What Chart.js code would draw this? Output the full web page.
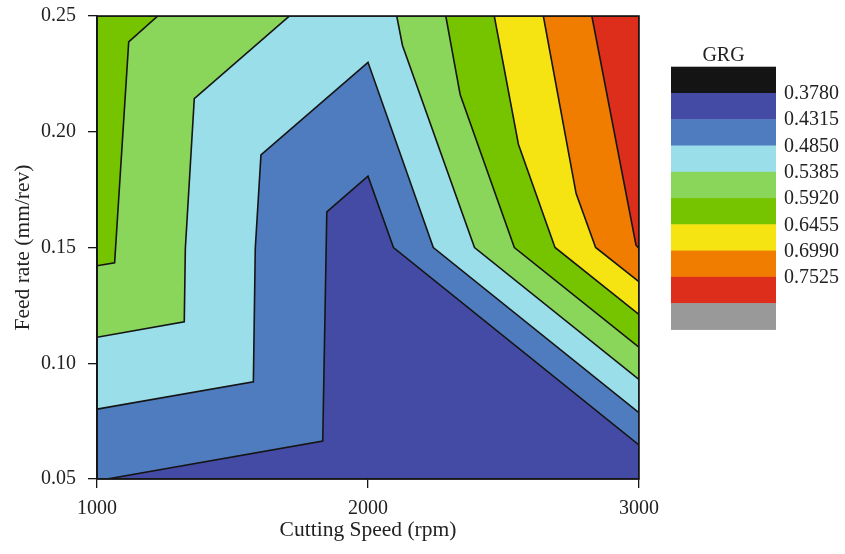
<!DOCTYPE html>
<html><head><meta charset="utf-8">
<script src="https://cdn.jsdelivr.net/npm/chart.js@4/dist/chart.umd.min.js"></script>
<style>html,body{margin:0;padding:0;background:#fff}canvas{display:block}</style>
</head><body>
<canvas id="c" width="845" height="554"></canvas>
<script>
// ---- axis ticks ----
const speedTicks = [1000, 2000, 3000];
const feedTicks = [0.05, 0.10, 0.15, 0.20, 0.25];

// ---- legend (GRG levels) ----
const legendLabels = ['0.3780','0.4315','0.4850','0.5385','0.5920','0.6455','0.6990','0.7525'];
const legendColors = ['#141414','#444ba5','#4f7cbe','#99dee9','#8ad65b','#76c400','#f5e412','#f07d00','#dd2e1c','#999999'];

// ---- filled contour regions (GRG above a level): speed (rpm) / feed (mm/rev) vertices ----
const navyX = [1000, 3000, 3000, 1000];
const navyY = [0.05, 0.05, 0.25, 0.25];
const blueX = [1000, 1037, 1833, 1848, 2000, 2094, 3000, 3000, 1000];
const blueY = [0.05, 0.05, 0.0664, 0.1654, 0.1808, 0.150, 0.0647, 0.25, 0.25];
const lightBlueX = [1000, 1577, 1584, 1605, 2000, 2241, 3000, 3000, 1000];
const lightBlueY = [0.0802, 0.092, 0.1496, 0.190, 0.230, 0.150, 0.0786, 0.25, 0.25];
const lightGreenLeftX = [1000, 1322, 1326, 1359, 1710, 1000];
const lightGreenLeftY = [0.1112, 0.1179, 0.1496, 0.2143, 0.25, 0.25];
const lightGreenRightX = [2106, 2127, 2393, 3000, 3000];
const lightGreenRightY = [0.25, 0.2374, 0.150, 0.0930, 0.25];
const greenLeftX = [1000, 1065, 1117, 1224, 1000];
const greenLeftY = [0.1421, 0.1434, 0.2388, 0.25, 0.25];
const greenRightX = [2287, 2340, 2540, 3000, 3000];
const greenRightY = [0.25, 0.2161, 0.150, 0.1069, 0.25];
const yellowX = [2466, 2555, 2690, 3000, 3000];
const yellowY = [0.25, 0.1946, 0.150, 0.1211, 0.25];
const orangeX = [2647, 2768, 2840, 3000, 3000];
const orangeY = [0.25, 0.1733, 0.150, 0.1352, 0.25];
const redX = [2826, 2989, 3000, 3000];
const redY = [0.25, 0.151, 0.1496, 0.25];

const regions = [
  [navyX, navyY, 1],
  [blueX, blueY, 2],
  [lightBlueX, lightBlueY, 3],
  [lightGreenLeftX, lightGreenLeftY, 4],
  [lightGreenRightX, lightGreenRightY, 4],
  [greenLeftX, greenLeftY, 5],
  [greenRightX, greenRightY, 5],
  [yellowX, yellowY, 6],
  [orangeX, orangeY, 7],
  [redX, redY, 8]
];

const FONT = 'Liberation Serif';
const TXT = '#222';

const datasets = regions.map(([xs, ys, ci], i) => {
  const pts = xs.map((x, k) => ({x: x, y: ys[k]}));
  pts.push({x: xs[0], y: ys[0]});
  return {
    data: pts,
    showLine: true,
    fill: 'shape',
    backgroundColor: legendColors[ci],
    borderColor: '#151515',
    borderWidth: 1.6,
    pointRadius: 0,
    pointHoverRadius: 0,
    tension: 0,
    order: 100 - i
  };
});

const frame = {
  id: 'frame',
  afterDatasetsDraw(chart) {
    const {ctx, chartArea: a} = chart;
    ctx.save();
    ctx.strokeStyle = '#151515';
    ctx.lineWidth = 1.6;
    ctx.strokeRect(a.left, a.top, a.right - a.left, a.bottom - a.top);
    ctx.restore();
  }
};

const grgLegend = {
  id: 'grgLegend',
  afterDraw(chart) {
    const ctx = chart.ctx;
    const x0 = 671, w = 105, y0 = 66.7, h = 26.27;
    ctx.save();
    ctx.font = '20px "' + FONT + '"';
    ctx.fillStyle = TXT;
    ctx.textAlign = 'center';
    ctx.textBaseline = 'middle';
    ctx.fillText('GRG', x0 + w / 2, 56);
    legendColors.forEach((c, i) => {
      ctx.fillStyle = c;
      ctx.fillRect(x0, y0 + i * h, w, h + 0.5);
    });
    ctx.fillStyle = TXT;
    ctx.textAlign = 'left';
    legendLabels.forEach((t, i) => {
      ctx.fillText(t, 784, y0 + (i + 1) * h + 1);
    });
    ctx.restore();
  }
};

new Chart(document.getElementById('c'), {
  type: 'scatter',
  data: {datasets},
  options: {
    responsive: false,
    animation: false,
    events: [],
    layout: {padding: {top: 16, right: 206, left: 0, bottom: 0}},
    plugins: {legend: {display: false}, tooltip: {enabled: false}},
    scales: {
      x: {
        type: 'linear', min: 1000, max: 3000,
        afterBuildTicks: s => { s.ticks = speedTicks.map(v => ({value: v})); },
        afterFit: s => { s.height = 75; s.paddingLeft = 0; s.paddingRight = 0; },
        ticks: {font: {family: FONT, size: 20}, color: TXT, padding: 9, maxRotation: 0,
                callback: v => String(v)},
        grid: {drawOnChartArea: false, drawTicks: true, tickLength: 9, color: '#151515', lineWidth: 1.3},
        border: {display: true, color: '#151515', width: 1.6},
        title: {display: true, text: 'Cutting Speed (rpm)', font: {family: FONT, size: 21.5}, color: TXT,
                padding: {top: 0, bottom: 11}}
      },
      y: {
        type: 'linear', min: 0.05, max: 0.25,
        afterBuildTicks: s => { s.ticks = feedTicks.map(v => ({value: v})); },
        afterFit: s => { s.width = 97; s.paddingTop = 0; s.paddingBottom = 0; },
        ticks: {font: {family: FONT, size: 20}, color: TXT, padding: 12,
                callback: v => Number(v).toFixed(2)},
        grid: {drawOnChartArea: false, drawTicks: true, tickLength: 9, color: '#151515', lineWidth: 1.3},
        border: {display: true, color: '#151515', width: 1.6},
        title: {display: true, text: 'Feed rate (mm/rev)', font: {family: FONT, size: 21.5}, color: TXT,
                padding: {top: 10, bottom: 0}}
      }
    }
  },
  plugins: [frame, grgLegend]
});
</script>
</body></html>
